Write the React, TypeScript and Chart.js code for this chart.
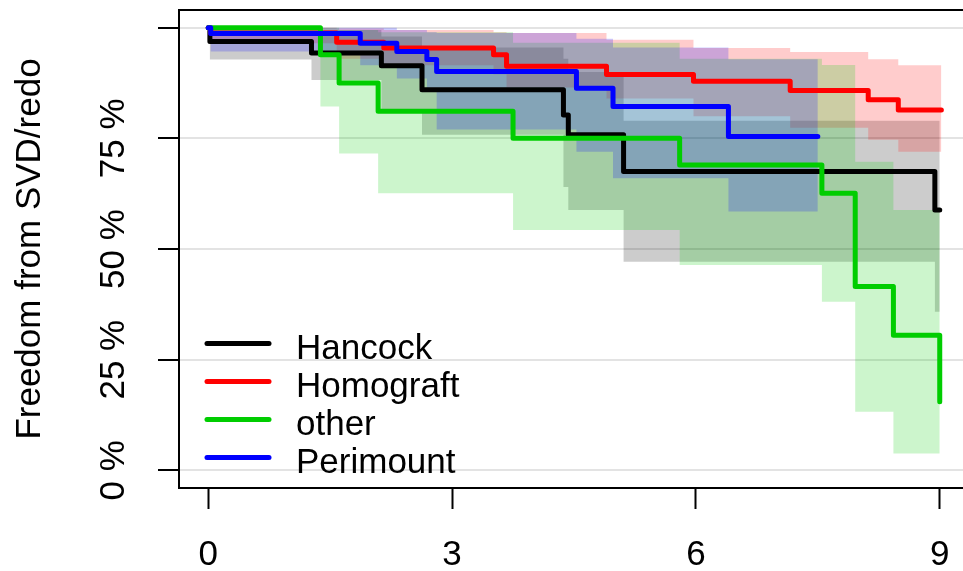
import React, { useEffect, useRef } from "react";
import { Chart, registerables } from "chart.js";

Chart.register(...registerables);

// ---------- data ----------
const seriesNames = ["Hancock", "Homograft", "other", "Perimount"];
const lineColors = ["#000000", "#FF0000", "#00CD00", "#0000FF"];
const bandColors = [
  "rgba(0,0,0,0.2)",
  "rgba(255,0,0,0.2)",
  "rgba(0,205,0,0.2)",
  "rgba(0,0,255,0.2)",
];

// Hancock
const hancockTime = [0, 0.02, 1.27, 2.13, 2.63, 4.37, 4.43, 5.11, 8.94, 9.0];
const hancockSurv = [1.0, 0.969, 0.943, 0.914, 0.86, 0.803, 0.758, 0.675, 0.588, 0.588];
const hancockLower = [1.0, 0.928, 0.882, 0.807, 0.758, 0.64, 0.588, 0.471, 0.358, 0.358];
const hancockUpper = [1.0, 1.0, 0.995, 0.98, 0.955, 0.93, 0.9, 0.79, 0.79, 0.79];

// Homograft
const homograftTime = [0, 0.03, 1.58, 2.16, 3.51, 3.67, 4.9, 5.97, 7.16, 8.12, 8.49, 9.02];
const homograftSurv = [1.0, 0.988, 0.967, 0.954, 0.939, 0.913, 0.894, 0.879, 0.858, 0.837, 0.814, 0.814];
const homograftLower = [1.0, 0.965, 0.93, 0.915, 0.895, 0.865, 0.84, 0.8, 0.774, 0.747, 0.72, 0.72];
const homograftUpper = [1.0, 1.0, 0.998, 0.995, 0.99, 0.988, 0.973, 0.954, 0.945, 0.929, 0.915, 0.915];

// other
const otherTime = [0, 1.38, 1.61, 2.09, 3.75, 5.8, 7.55, 7.96, 8.43, 9.0];
const otherSurv = [1.0, 0.939, 0.875, 0.811, 0.75, 0.69, 0.626, 0.415, 0.305, 0.155];
const otherLower = [1.0, 0.822, 0.716, 0.626, 0.543, 0.464, 0.381, 0.132, 0.038, 0.155];
const otherUpper = [1.0, 1.0, 0.995, 0.99, 0.966, 0.93, 0.916, 0.697, 0.588, 0.155];

// Perimount
const perimountTime = [0, 0.03, 1.87, 2.32, 2.69, 2.81, 4.53, 4.98, 6.4, 7.5];
const perimountSurv = [1.0, 0.987, 0.965, 0.946, 0.928, 0.901, 0.863, 0.822, 0.754, 0.754];
const perimountLower = [1.0, 0.946, 0.915, 0.885, 0.86, 0.77, 0.72, 0.66, 0.585, 0.585];
const perimountUpper = [1.0, 1.0, 1.0, 0.995, 0.99, 0.988, 0.975, 0.955, 0.929, 0.929];

const xTicks = [0, 3, 6, 9];
const xTickLabels = ["0", "3", "6", "9"];
const yTicks = [0, 0.25, 0.5, 0.75, 1];
const yTickLabels = ["0 %", "25 %", "50 %", "75 %", ""];
const yTitle = "Freedom from SVD/redo";

// ---------- helpers ----------
const pts = (t: number[], v: number[]) => t.map((x, i) => ({ x, y: v[i] }));

const groups = [
  { t: hancockTime, s: hancockSurv, lo: hancockLower, up: hancockUpper },
  { t: homograftTime, s: homograftSurv, lo: homograftLower, up: homograftUpper },
  { t: otherTime, s: otherSurv, lo: otherLower, up: otherUpper },
  { t: perimountTime, s: perimountSurv, lo: perimountLower, up: perimountUpper },
];

const FONT = "'Liberation Sans', Arial, Helvetica, sans-serif";

const framePlugin = {
  id: "frameAndLegend",
  afterDraw(chart: any) {
    const { ctx, chartArea } = chart;
    ctx.save();
    ctx.strokeStyle = "#000";
    ctx.lineWidth = 2;
    ctx.strokeRect(chartArea.left, chartArea.top, chartArea.right - chartArea.left, chartArea.bottom - chartArea.top);

    // legend (bottom-left inside plot)
    const x0 = chartArea.left + 28;
    const x1 = chartArea.left + 90;
    const tx = chartArea.left + 117;
    const firstY = chartArea.bottom - 144.5;
    const step = 38;
    ctx.font = `35px ${FONT}`;
    ctx.textBaseline = "alphabetic";
    ctx.textAlign = "left";
    seriesNames.forEach((name, i) => {
      const y = firstY + i * step;
      ctx.beginPath();
      ctx.strokeStyle = lineColors[i];
      ctx.lineWidth = 5;
      ctx.lineCap = "round";
      ctx.moveTo(x0, y);
      ctx.lineTo(x1, y);
      ctx.stroke();
      ctx.fillStyle = "#000";
      ctx.fillText(name, tx, y + 15.5);
    });
    ctx.restore();
  },
};

export default function App() {
  const ref = useRef<HTMLCanvasElement | null>(null);

  useEffect(() => {
    if (!ref.current) return;
    const lineOrder = [3, 2, 1, 0]; // Perimount on top
    const lineSets = lineOrder.map((g) => ({
      label: seriesNames[g],
      data: pts(groups[g].t, groups[g].s),
      borderColor: lineColors[g],
      backgroundColor: lineColors[g],
      borderWidth: 5,
      pointRadius: 0,
      stepped: "before" as const,
      fill: false,
      borderCapStyle: "round" as const,
      borderJoinStyle: "round" as const,
    }));
    const bandSets: any[] = [];
    [3, 2, 1, 0].forEach((g) => {
      bandSets.push({
        label: seriesNames[g] + " lower",
        data: pts(groups[g].t, groups[g].lo),
        borderWidth: 0,
        borderColor: "rgba(0,0,0,0)",
        pointRadius: 0,
        stepped: "before",
        fill: false,
      });
      bandSets.push({
        label: seriesNames[g] + " upper",
        data: pts(groups[g].t, groups[g].up),
        borderWidth: 0,
        borderColor: "rgba(0,0,0,0)",
        backgroundColor: bandColors[g],
        pointRadius: 0,
        stepped: "before",
        fill: "-1",
      });
    });

    const chart = new Chart(ref.current, {
      type: "line",
      data: { datasets: [...lineSets, ...bandSets] },
      plugins: [framePlugin],
      options: {
        animation: false,
        responsive: false,
        maintainAspectRatio: false,
        layout: { padding: { top: 10, left: 0, right: 11, bottom: 0 } },
        plugins: {
          legend: { display: false },
          tooltip: { enabled: false },
        },
        scales: {
          x: {
            type: "linear",
            min: -0.36,
            max: 9.36,
            afterBuildTicks: (scale: any) => {
              scale.ticks = xTicks.map((v) => ({ value: v }));
            },
            afterFit: (scale: any) => {
              scale.height = 83;
              scale.paddingLeft = 0;
              scale.paddingRight = 0;
            },
            grid: {
              display: true,
              drawOnChartArea: false,
              drawTicks: true,
              tickLength: 21,
              tickColor: "#000",
              tickWidth: 2,
            },
            border: { display: true, color: "#000", width: 2 },
            ticks: {
              color: "#000",
              font: { family: FONT, size: 35 },
              padding: 25,
              maxRotation: 0,
              minRotation: 0,
              callback: (v: any) => {
                const i = xTicks.indexOf(Number(v));
                return i >= 0 ? xTickLabels[i] : "";
              },
            },
          },
          y: {
            type: "linear",
            min: -0.04,
            max: 1.04,
            afterBuildTicks: (scale: any) => {
              scale.ticks = yTicks.map((v) => ({ value: v }));
            },
            afterFit: (scale: any) => {
              scale.width = 179;
              scale.paddingTop = 0;
              scale.paddingBottom = 0;
              scale.paddingLeft = 0;
              scale.paddingRight = 0;
            },
            grid: {
              display: true,
              drawOnChartArea: true,
              color: "#e3e3e3",
              lineWidth: 2,
              drawTicks: true,
              tickLength: 21,
              tickColor: "#000",
              tickWidth: 2,
            },
            border: { display: true, color: "#000", width: 2 },
            ticks: {
              color: "#000",
              font: { family: FONT, size: 35 },
              padding: 4,
              minRotation: 90,
              maxRotation: 90,
              crossAlign: "center",
              callback: (v: any) => {
                const i = yTicks.indexOf(Number(v));
                return i >= 0 ? yTickLabels[i] : "";
              },
            },
            title: {
              display: true,
              text: yTitle,
              color: "#000",
              font: { family: FONT, size: 35 },
              padding: { top: 9, bottom: 0 },
            },
          },
        },
      } as any,
    });
    return () => chart.destroy();
  }, []);

  return (
    <div
      style={{
        position: "fixed",
        left: 0,
        top: 0,
        width: 963,
        height: 571,
        overflow: "hidden",
        background: "#fff",
      }}
    >
      <canvas
        ref={ref}
        width={980}
        height={571}
        style={{ display: "block", width: 980, height: 571 }}
      />
    </div>
  );
}
